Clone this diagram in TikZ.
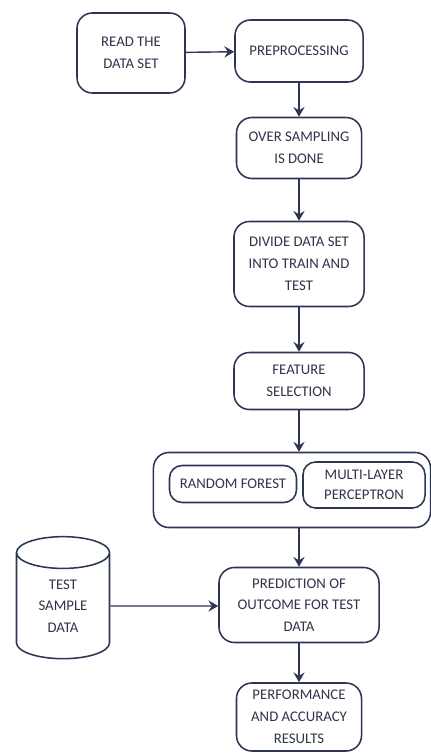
\documentclass[tikz,border=0pt]{standalone}
\usepackage{fontspec}
\setmainfont{Carlito}
\usetikzlibrary{shapes.geometric}
\usetikzlibrary{positioning}
\usetikzlibrary{arrows.meta}
\definecolor{navy}{HTML}{2E3656}
\definecolor{inktxt}{HTML}{30354A}
\tikzset{
    stepbox/.style = {rectangle, rounded corners=11pt, line width=1.1pt, draw=navy, fill=white, align=center, inner sep=0pt, text=inktxt, font=\fontsize{10.5}{15.5}\selectfont},
    algbox/.style = {rectangle, rounded corners=9pt, line width=1.1pt, draw=navy, fill=white, align=center, inner sep=0pt, text=inktxt, font=\fontsize{10.5}{14}\selectfont},
    database/.style = {cylinder, shape border rotate=90, aspect=0.65, line width=1.1pt, draw=navy, fill=white, align=center, inner sep=0pt, text=inktxt, font=\fontsize{10.5}{15.5}\selectfont},
    edgen/.style = {-{Stealth[length=7pt,width=8pt,inset=2.5pt]}, line width=1pt, navy}
}
\begin{document}
\begin{tikzpicture}[x=0.025cm,y=-0.025cm]
\useasboundingbox (0,0) rectangle (431,753);
%
\node[stepbox, minimum width=2.7cm, minimum height=2.0cm] at (131,53) (read) {READ THE\\DATA SET};
\node[stepbox, minimum width=3.2cm, minimum height=1.55cm] at (299,51) (prep) {PREPROCESSING};
\node[stepbox, minimum width=3.125cm, minimum height=1.525cm] at (299,148) (over) {OVER SAMPLING\\IS DONE};
\node[stepbox, minimum width=3.25cm, minimum height=2.125cm] at (299,264) (divide) {DIVIDE DATA SET\\INTO TRAIN AND\\TEST};
\node[stepbox, minimum width=3.25cm, minimum height=1.425cm] at (299,381) (feat) {FEATURE\\SELECTION};
\node[stepbox, minimum width=6.925cm, minimum height=1.875cm] at (292,490) (models) {};
\node[algbox, minimum width=3.175cm, minimum height=0.925cm] at (233,484) (rf) {RANDOM FOREST};
\node[algbox, minimum width=3.05cm, minimum height=1.15cm] at (364,485) (mlp) {MULTI-LAYER\\PERCEPTRON};
\node[stepbox, minimum width=4.0cm, minimum height=1.875cm] at (299,605) (pred) {PREDICTION OF\\OUTCOME FOR TEST\\DATA};
\node[database, minimum width=2.325cm, minimum height=3.05cm] at (63,606) (test) {TEST\\SAMPLE\\DATA};
\node[stepbox, minimum width=3.125cm, minimum height=1.7cm] at (299,717) (perf) {PERFORMANCE\\AND ACCURACY\\RESULTS};
%
\draw[edgen] (read) -- (prep);
\draw[edgen] (prep) -- (over);
\draw[edgen] (over) -- (divide);
\draw[edgen] (divide) -- (feat);
\draw[edgen] (feat) -- (feat |- models.north);
\draw[edgen] (feat |- models.south) -- (pred);
\draw[edgen] (test) -- (test -| pred.west);
\draw[edgen] (pred) -- (perf);
\end{tikzpicture}
\end{document}
